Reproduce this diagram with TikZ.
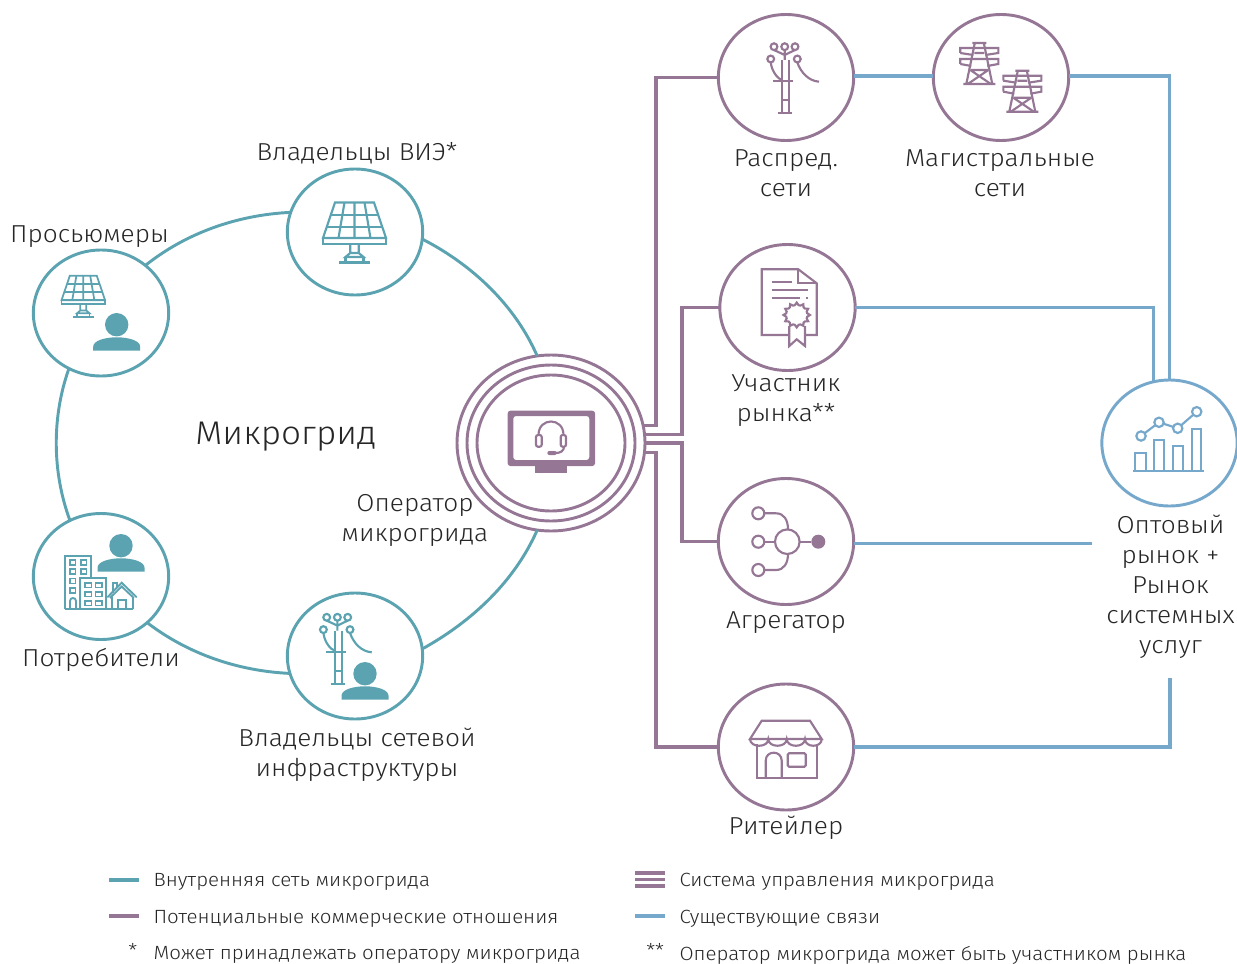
\documentclass[tikz,border=0pt]{standalone}
\usepackage{fontspec}
\setmainfont{Fira Sans}[UprightFont={* Light},FakeStretch=1.07]
\usetikzlibrary{shapes.geometric,calc}
\definecolor{teal1}{HTML}{5BA3B0}
\definecolor{purp}{HTML}{957795}
\definecolor{blue1}{HTML}{76A8CC}
\definecolor{txt}{HTML}{262626}
\tikzset{
 circ/.style={ellipse,draw,fill=white,line width=2.2pt,minimum width=101.5pt,minimum height=94.5pt,inner sep=0pt,outer sep=0pt},
 tcirc/.style={circ,draw=teal1},
 pcirc/.style={circ,draw=purp},
 bcirc/.style={circ,draw=blue1},
 ringc/.style={ellipse,draw=purp,line width=2.2pt,inner sep=0pt,outer sep=0pt},
 ringline/.style={draw=teal1,line width=2.2pt},
 purpline/.style={draw=purp,line width=2.3pt},
 blueline/.style={draw=blue1,line width=2.4pt},
 icont/.style={color=teal1,line width=1.6pt},
 iconp/.style={color=purp,line width=1.6pt},
 iconb/.style={color=blue1,line width=1.6pt},
 lab/.style={text=txt,font=\fontsize{18.4}{22.5}\selectfont,align=center,inner sep=0pt},
 leg/.style={text=txt,font=\fontsize{14.35}{17}\selectfont,anchor=west,inner sep=0pt},
 solar/.pic={
  \draw (-19.5,-29.5)--(19.5,-29.5)--(31.5,6)--(-31.5,6)--cycle;
  \draw (-31.5,6) rectangle (31.5,12);
  \draw (-23.5,-17)--(23.5,-17) (-27.5,-5.3)--(27.5,-5.3);
  \draw (-10,-29.5)--(-16,6) (0,-29.5)--(0,6) (10,-29.5)--(16,6);
  \draw (-4.3,12)--(-4.3,21)--(-9,25)--(9,25)--(4.3,21)--(4.3,12) (-4.3,21)--(4.3,21);
  \draw (-15.5,30.5)--(15.5,30.5) (-9,25)--(-9,30.5) (9,25)--(9,30.5);
 },
 person/.pic={
  \fill (0,0) circle[x radius=11.7,y radius=11.7];
  \fill (-23.5,26)--(-23.5,22) .. controls (-23.5,16) and (-12,12.6) .. (0,12.6) .. controls (12,12.6) and (23.5,16) .. (23.5,22)--(23.5,26)--cycle;
 },
 pole/.pic={
  \draw (-4,-17)--(-4,36) (3,-17)--(3,36) (-8,36)--(6,36) (-4,23)--(3,23) (-13,4)--(7,4);
  \foreach \p in {(-12,-30.3),(-1.3,-30.3),(9,-30.3),(-15.3,-18),(11.3,-18)} \draw \p circle[x radius=3.4,y radius=3.4];
  \draw (-12,-27)--(-1.3,-22)--(9,-27) (-1.3,-27)--(-1.3,-17);
  \draw (-15.3,-14.6) .. controls (-14,-5) and (-8,2) .. (-4,3);
  \draw (11.3,-14.6) .. controls (15,-4) and (23,4) .. (33,4.7);
 },
 tower/.pic={
  \draw (-7,-21)--(7,-21) (-4.5,-21)--(-13,20) (4.5,-21)--(13,20) (-16,20)--(16,20);
  \draw (-19,-11)--(-19,-16)--(19,-16)--(19,-11)--(6,-9) (-19,-11)--(-6,-9);
  \draw (-19,0)--(-19,-5)--(19,-5)--(19,0)--(8,2) (-19,0)--(-8,2);
  \draw (-9,6)--(9,6) (-9,6)--(11.5,20) (9,6)--(-11.5,20) (-5,-11)--(5,-11);
 },
}
\begin{document}
\begin{tikzpicture}[x=0.75pt,y=-0.75pt]
\useasboundingbox (0,0) rectangle (1237,963);
% coordinates
\coordinate (busA) at (656,0);
\coordinate (busB) at (682,0);
\coordinate (topBus) at (0,76);
\coordinate (aggEnd) at (1092,544);
\coordinate (retEnd) at (1170,678);
% circles
\node[tcirc] (vie) at (355,232) {};
\node[tcirc] (pros) at (101,313) {};
\node[tcirc] (cons) at (101,576.5) {};
\node[tcirc] (grid) at (355,656) {};
\node[ringc,minimum width=141pt,minimum height=132pt] (op) at (551,443) {};
\node[ringc,minimum width=126pt,minimum height=117pt] (opm) at (551,443) {};
\node[ringc,minimum width=111pt,minimum height=102pt] (opi) at (551,443) {};
\node[pcirc] (dist) at (786,77.5) {};
\node[pcirc] (main) at (1001,77.5) {};
\node[pcirc] (part) at (787.5,307.5) {};
\node[pcirc] (agg) at (786,541.5) {};
\node[pcirc] (ret) at (786,747) {};
\node[bcirc] (opt) at (1169.5,443) {};
% ring
\draw[ringline] (pros.47.5) .. controls (185.8,233.2) and (236.9,214.9) .. (vie.163);
\draw[ringline] (vie.-6.7) .. controls (473.3,265.3) and (515.2,305.8) .. (op.99);
\draw[ringline] (pros.240.3) .. controls (51.7,416.8) and (52,472) .. (cons.119.3);
\draw[ringline] (cons.-45.3) .. controls (188,653.9) and (237.8,671) .. (grid.195.3);
\draw[ringline] (grid.6.7) .. controls (473.3,620.7) and (515.2,580.2) .. (op.-99);
% purple connectors
\draw[purpline] (op.11.7) -- (op.11.7 -| busA) |- (dist.west);
\draw[purpline] (op.5.5) -- (op.5.5 -| busB) |- (part.west);
\draw[purpline] (op.-0.6) -- (op.-0.6 -| busB) |- (agg.west);
\draw[purpline] (op.-6.7) -- (op.-6.7 -| busA) |- (ret.west);
% blue connectors
\draw[blueline] (dist.east |- topBus) -- (main.west |- topBus);
\draw[blueline] (main.east |- topBus) -| (opt.north);
\draw[blueline] (part.east) -| (opt.105);
\draw[blueline] (agg.-2.5) -- (agg.-2.5 -| aggEnd);
\draw[blueline] (ret.east) -| (retEnd);
% icons
\pic[icont] at (354.5,232) {solar};
\pic[icont,scale=.69,line width=1.3pt] at (83.3,296) {solar};
\pic[icont] at (116.7,324.7) {person};
\pic[icont] at (121,545.7) {person};
\pic[icont] at (365,673.7) {person};
\pic[icont] at (338.7,647.6) {pole};
\pic[iconp] at (786,77) {pole};
\pic[iconp] at (979.3,64) {tower};
\pic[iconp] at (1022.3,91.7) {tower};
% buildings
\begin{scope}[icont,line width=1.4pt]
\draw (65,609.3)--(65,555.7)--(91,555.7)--(91,577.7);
\draw (80,609.3)--(80,577.7)--(106,577.7)--(106,609.3);
\draw (65,609.3)--(133.3,609.3);
\foreach \yy in {560,569} {\draw (70,\yy) rectangle (75.5,\yy+5); \draw (81,\yy) rectangle (86.5,\yy+5);}
\foreach \yy in {578.5,588} \draw (70,\yy) rectangle (75.5,\yy+5);
\draw (70,609.3)--(70,601) .. controls (70,597) and (76,597) .. (76,601)--(76,609.3);
\foreach \yy in {583,592,601} {\draw (85,\yy) rectangle (91.5,\yy+4.5); \draw (95.5,\yy) rectangle (102,\yy+4.5);}
\draw (107.3,597.3)--(121.7,582.7)--(136.7,597.3) (110,598)--(121.7,586.5)--(133.8,598);
\draw (111.7,597)--(111.7,609.3) (133.3,597)--(133.3,609.3);
\draw (118.3,609.3)--(118.3,600)--(126,600)--(126,609.3);
\draw (112.7,593)--(112.7,583)--(117.3,583)--(117.3,587);
\end{scope}
% certificate
\begin{scope}[iconp]
\draw (789,335)--(761.7,335)--(761.7,269.3)--(798.3,269.3)--(816.7,283.3)--(816.7,335)--(805,335);
\draw (798.3,269.3)--(798.3,283.3)--(816.7,283.3);
\draw (771.7,282.3)--(791.7,282.3) (771.7,290)--(808.3,290) (771.7,298.3)--(800,298.3) (806,298.3)--(808.3,298.3);
\draw[fill=white] (789.3,326)--(789.3,346)--(796.7,339.3)--(805,346)--(805,326);
\draw[fill=white] plot[samples=37,domain=0:360] ({796.7+(11.5+1.7*cos(12*\x))*cos(\x)},{315+(10.8+1.6*cos(12*\x))*sin(\x)}) -- cycle;
\end{scope}
% aggregator
\begin{scope}[iconp]
\draw (764.3,513.3)--(776,513.3) .. controls (784,513.3) and (788,520) .. (788,529.4);
\draw (764.3,570)--(776,570) .. controls (784,570) and (788,563) .. (788,554);
\draw (764.3,541.7)--(775,541.7) (799.7,541.7)--(811,541.7);
\draw (787.3,541.7) circle[x radius=12.3,y radius=12.3];
\foreach \yy in {513.3,541.7,570} \draw (758.3,\yy) circle[x radius=6,y radius=6];
\fill (818.3,541.7) circle[x radius=7,y radius=7];
\end{scope}
% store
\begin{scope}[iconp]
\draw (750,739)--(761.7,720.7)--(810,720.7)--(821.7,739)--cycle;
\draw (750,739) .. controls (750,748) and (768.3,748) .. (768.3,739) .. controls (768.3,748) and (786.7,748) .. (786.7,739) .. controls (786.7,748) and (805,748) .. (805,739) .. controls (805,748) and (821.7,748) .. (821.7,739);
\draw (756.7,744)--(756.7,777.7)--(816.7,777.7)--(816.7,744);
\draw (765.7,777.7)--(765.7,760.7) .. controls (765.7,750) and (781.7,750) .. (781.7,760.7)--(781.7,777.7);
\draw[rounded corners=1pt] (787.7,753.3) rectangle (805.7,766.7);
\end{scope}
% monitor
\begin{scope}[iconp]
\fill[even odd rule,rounded corners=2pt] (507.7,410.7) rectangle (595,466) (513.3,416) rectangle (589.3,460);
\fill (535,466) rectangle (567.3,473.3);
\draw (538.5,435) .. controls (538.5,417) and (563.5,417) .. (563.5,435);
\draw[rounded corners=1.5pt] (536,435) rectangle (541.7,446.7);
\draw[rounded corners=1.5pt] (560.7,435) rectangle (566,446.7);
\draw (564,447) .. controls (564,451) and (560,453) .. (556,453);
\fill[rounded corners=1.5pt] (547.3,451) rectangle (556.7,455);
\end{scope}
% chart
\begin{scope}[iconb]
\draw (1133.3,470.7)--(1204,470.7);
\draw (1135,470.7)--(1135,453.3)--(1146,453.3)--(1146,470.7);
\draw (1154,470.7)--(1154,440)--(1164,440)--(1164,470.7);
\draw (1173.3,470.7)--(1173.3,446)--(1182.7,446)--(1182.7,470.7);
\draw (1191.7,470.7)--(1191.7,429.3)--(1201,429.3)--(1201,470.7);
\draw (1141,436)--(1159,422.3)--(1177.7,428.3)--(1196.7,411.7);
\foreach \p in {(1141,436),(1159,422.3),(1177.7,428.3),(1196.7,411.7)} \draw[fill=white] \p circle[x radius=4.7,y radius=4.7];
\end{scope}
% labels
\node[lab] (tvie) at (357,153) {Владельцы ВИЭ*};
\node[lab] (tpros) at (89.5,237) {Просьюмеры};
\node[lab,font=\fontsize{24.6}{28}\selectfont] (tmg) at (286,437) {Микрогрид};
\node[lab] (tcons) at (101,660) {Потребители};
\node[lab] (tgrid) at (357,755) {Владельцы сетевой\\инфраструктуры};
\node[lab] (top) at (415,520) {Оператор\\микрогрида};
\node[lab] (tdist) at (786,173) {Распред.\\сети};
\node[lab] (tmain) at (1000,173) {Магистральные\\сети};
\node[lab] (tpart) at (786,401) {Участник\\рынка**};
\node[lab] (tagg) at (786,623) {Агрегатор};
\node[lab] (tret) at (786,828) {Ритейлер};
\node[lab] (topt) at (1170.5,587) {Оптовый\\рынок +\\Рынок\\системных\\услуг};
% legend
\draw[draw=teal1,line width=2.8pt] (109,880)--(139,880);
\draw[draw=purp,line width=2.8pt] (109,916)--(139,916);
\foreach \yy in {873,879.5,886} \draw[draw=purp,line width=2.8pt] (635,\yy)--(665,\yy);
\draw[draw=blue1,line width=2.8pt] (635,916)--(665,916);
\node[leg] (l1) at (153.3,882) {Внутренняя сеть микрогрида};
\node[leg] (l2) at (153.3,918.5) {Потенциальные коммерческие отношения};
\node[leg] (l3) at (153.3,955) {Может принадлежать оператору микрогрида};
\node[leg] (l4) at (679.3,882) {Система управления микрогрида};
\node[leg] (l5) at (679.3,918.5) {Существующие связи};
\node[leg] (l6) at (679.3,955) {Оператор микрогрида может быть участником рынка};
\node[leg] (l7) at (128,950) {*};
\node[leg] (l8) at (646,950) {**};
\end{tikzpicture}
\end{document}
